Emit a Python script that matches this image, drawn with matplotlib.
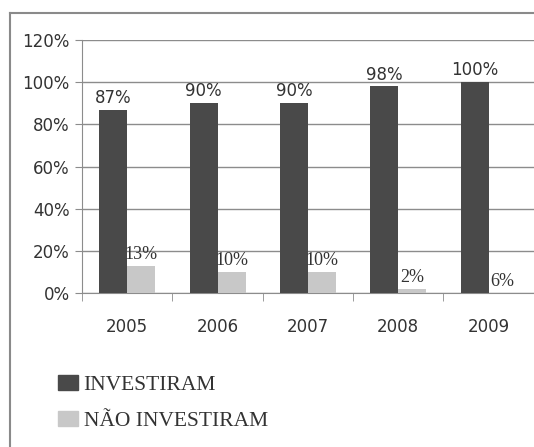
import numpy as np
import matplotlib
matplotlib.use("Agg")
import matplotlib.pyplot as plt
from matplotlib.patches import Patch
from matplotlib.lines import Line2D

# dados
anos = ["2005", "2006", "2007", "2008", "2009"]
investiram = [87, 90, 90, 98, 100]
nao_investiram = [13, 10, 10, 2, 0]
rotulos_inv = ["87%", "90%", "90%", "98%", "100%"]
rotulos_nao = ["13%", "10%", "10%", "2%", "6%"]
yticks = [0, 20, 40, 60, 80, 100, 120]

cor_escura = "#494949"
cor_clara = "#c8c8c8"
cor_grade = "#8c8c8c"

fig = plt.figure(figsize=(5.34, 4.47), dpi=100)
ax = fig.add_axes([0.1536, 0.3445, 0.846, 0.566])

x = np.arange(len(anos))
w = 0.31
b1 = ax.bar(x - w / 2, investiram, w, color=cor_escura, zorder=3)
b2 = ax.bar(x + w / 2, nao_investiram, w, color=cor_clara, zorder=3)

for rect, lab in zip(b1, rotulos_inv):
    ax.annotate(lab, (rect.get_x() + rect.get_width() / 2, rect.get_height()),
                xytext=(0, 2), textcoords="offset points", ha="center", va="bottom",
                fontsize=12, color="#333333", family="DejaVu Sans")
for rect, lab in zip(b2, rotulos_nao):
    ax.annotate(lab, (rect.get_x() + rect.get_width() / 2, rect.get_height()),
                xytext=(0, 2), textcoords="offset points", ha="center", va="bottom",
                fontsize=13, color="#333333", family="Liberation Serif")

ax.set_xlim(-0.5, len(anos) - 0.5)
ax.set_ylim(0, 120)
ax.set_yticks(yticks)
ax.set_yticklabels([f"{v}%" for v in yticks], fontsize=12, color="#333333")
ax.yaxis.grid(True, color=cor_grade, linewidth=1.0, zorder=0)
ax.set_axisbelow(True)

ax.set_xticks(x)
ax.set_xticklabels(anos, fontsize=12, color="#333333")
ax.set_xticks(np.arange(len(anos) + 1) - 0.5, minor=True)
ax.tick_params(axis="x", which="major", length=0, pad=18)
ax.tick_params(axis="x", which="minor", length=6, color=cor_grade, direction="out")
ax.tick_params(axis="y", length=5, color=cor_grade, pad=4)

for s in ["top", "right"]:
    ax.spines[s].set_visible(False)
ax.spines["left"].set_color(cor_grade)
ax.spines["bottom"].set_color(cor_grade)

# legenda
handles = [Patch(color=cor_escura), Patch(color=cor_clara)]
leg = fig.legend(handles, ["INVESTIRAM", "NÃO INVESTIRAM"], loc="upper left",
                 bbox_to_anchor=(0.108, 0.162), frameon=False,
                 prop={"family": "Liberation Serif", "size": 15.5},
                 handlelength=0.95, handleheight=0.7, handletextpad=0.25,
                 labelspacing=0.75, borderaxespad=0, borderpad=0)
for t in leg.get_texts():
    t.set_color("#333333")

# borda da figura (topo e esquerda)
fig.add_artist(Line2D([0.019, 0.019], [0.0, 0.971], color="#8a8a8a", lw=1.5,
                      transform=fig.transFigure))
fig.add_artist(Line2D([0.019, 1.0], [0.971, 0.971], color="#8a8a8a", lw=1.5,
                      transform=fig.transFigure))

fig.savefig("out.png", dpi=100)
